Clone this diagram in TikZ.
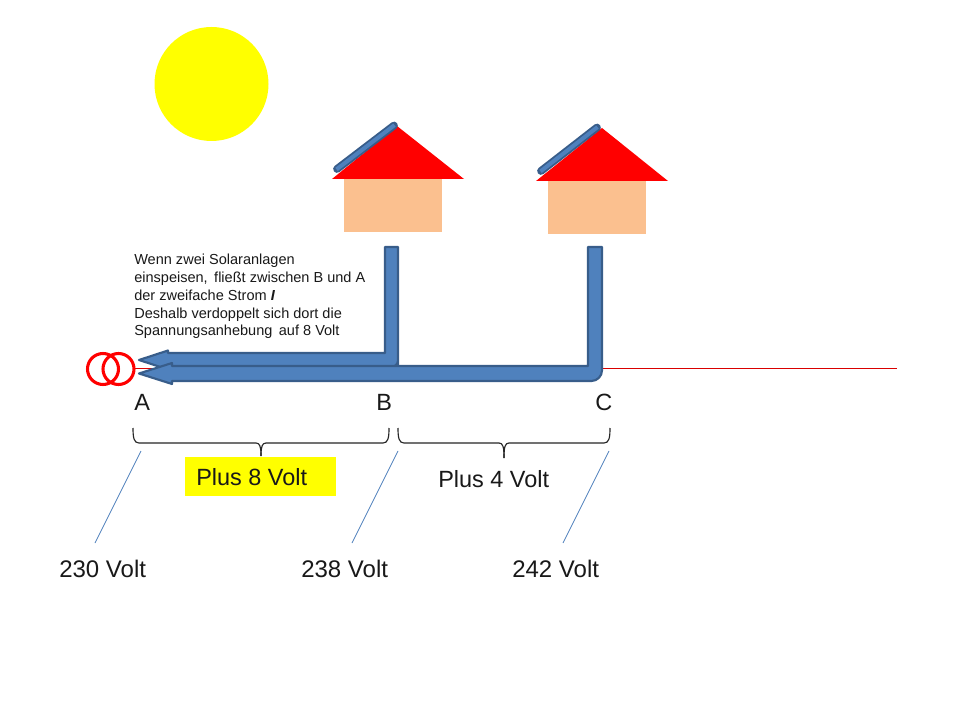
\documentclass[tikz,border=0pt]{standalone}
\usepackage{fontspec}
\setmainfont{Liberation Sans}
\definecolor{pvblue}{HTML}{4F81BD}
\definecolor{pvedge}{HTML}{385D8A}
\definecolor{wallc}{HTML}{FBC08F}
\definecolor{leader}{HTML}{4F81BD}
\definecolor{sunyellow}{HTML}{FFFF00}
\definecolor{pured}{HTML}{FF0000}
\tikzset{
  flowarrow/.style={fill=pvblue,draw=pvedge,line width=1.6pt,line join=round},
  wall/.style={fill=wallc,draw=none},
  roof/.style={fill=pured,draw=none},
  panelout/.style={draw=pvedge,line width=5.8pt,line cap=round},
  panelin/.style={draw=pvblue,line width=3pt},
  brace/.style={draw=black!85,line width=0.85pt},
  leaderline/.style={draw=leader,line width=0.6pt},
  bigtext/.style={font=\fontsize{17.6}{21}\selectfont,inner sep=0pt,anchor=base west,text=black!90},
  volttext/.style={font=\fontsize{18}{21}\selectfont,inner sep=0pt,anchor=base west,text=black!90},
  coil/.style={draw=pured,line width=2.3pt},
}
\begin{document}
\begin{tikzpicture}[x=0.75pt,y=-0.75pt]
\useasboundingbox (0,0) rectangle (960,720);
\fill[white] (0,0) rectangle (960,720);
% sun
\fill[sunyellow] (211.5,84) ellipse (57 and 57);
% houses
\fill[wall] (344,179) rectangle (442,232);
\fill[roof] (332,179) -- (464,179) -- (397,126) -- cycle;
\draw[panelout] (337,169) -- (394,125.5);
\draw[panelin] (336.5,169.4) -- (394.5,125.1);
\fill[wall] (548,181) rectangle (646,234);
\fill[roof] (536,181) -- (668,181) -- (602,128) -- cycle;
\draw[panelout] (541,171) -- (597,127.5);
\draw[panelin] (540.5,171.4) -- (597.5,127.1);
% line and transformer
\coordinate (lineStart) at (135,368.5);
\coordinate (lineEnd) at (897,368.5);
\draw[pured!85!black,line width=0.55pt] (lineStart) -- (lineEnd);
\draw[coil] (103,369) circle (15.5);
\draw[coil] (118.5,369) circle (15.5);
% flow arrows
\draw[flowarrow] (385,247) -- (398,247) -- (398,366)
  [rounded corners=5pt] -- (398,367) -- (168,367) [sharp corners] -- (168,369.5) -- (139,360) -- (168,350.5) -- (168,353) -- (385,353) -- cycle;
\draw[flowarrow] (588,247) -- (602,247) [rounded corners=8pt] -- (602,381) [sharp corners] -- (172,381) -- (172,384) -- (139,373.5) -- (172,363) -- (172,366) -- (588,366) -- cycle;
% explanation
\node[anchor=north west,inner sep=0pt,align=left,text=black!90,font=\fontsize{10.9}{13.35}\selectfont] (note) at (134,254)
 {Wenn zwei Solaranlagen\\einspeisen, \,fließt zwischen B und A\\der zweifache Strom \textbf{\textit{I}}\\Deshalb verdoppelt sich dort die\\Spannungsanhebung \,auf 8 Volt};
% letters
\node[bigtext] (A) at (134,410) {A};
\node[bigtext] (B) at (376,410) {B};
\node[bigtext] (C) at (595,410) {C};
% braces
\draw[brace] (133,428) .. controls (133,438) and (134,443) .. (139,443) -- (256,443) .. controls (260,443) and (261,447) .. (261,456);
\draw[brace] (261,456) .. controls (261,447) and (262,443) .. (266,443) -- (383,443) .. controls (388,443) and (389,438) .. (389,428);
\draw[brace] (398,428) .. controls (398,438) and (399,443) .. (404,443) -- (499,443) .. controls (503,443) and (504,447) .. (504,458);
\draw[brace] (504,458) .. controls (504,447) and (505,443) .. (509,443) -- (604,443) .. controls (609,443) and (610,438) .. (610,428);
% plus boxes
\fill[sunyellow] (185,457) rectangle (336,496);
\node[bigtext] (plus8) at (196,485) {Plus 8 Volt};
\node[bigtext] (plus4) at (438,487) {Plus 4 Volt};
% volts
\node[volttext] (v230) at (59,577) {230 Volt};
\node[volttext] (v238) at (301,577) {238 Volt};
\node[volttext] (v242) at (512,577) {242 Volt};
% leaders
\coordinate (la) at (141,451); \coordinate (lb) at (95,543);
\coordinate (ma) at (398,451); \coordinate (mb) at (352,543);
\coordinate (ra) at (609,451); \coordinate (rb) at (563,543);
\draw[leaderline] (la) -- (lb);
\draw[leaderline] (ma) -- (mb);
\draw[leaderline] (ra) -- (rb);
\end{tikzpicture}
\end{document}
